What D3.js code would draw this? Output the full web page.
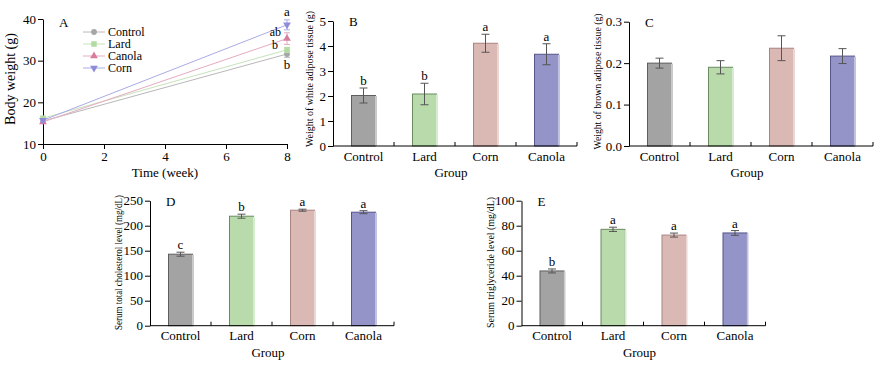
<!DOCTYPE html>
<html><head><meta charset="utf-8">
<script src="https://cdn.jsdelivr.net/npm/d3@7"></script>
<style>
html,body{margin:0;padding:0;background:#fff;}
svg{display:block;font-family:"Liberation Serif","Times New Roman",serif;}
</style></head>
<body><svg id="c" width="881" height="365" font-family="Liberation Serif, Times New Roman, serif"></svg>
<script>
// ---------- data ----------
const groups = ["Control", "Lard", "Corn", "Canola"];
const watMean = [2.02, 2.08, 4.11, 3.67];
const watErr  = [0.30, 0.43, 0.36, 0.42];
const watSig  = ["b", "b", "a", "a"];
const batMean = [0.200, 0.190, 0.236, 0.217];
const batErr  = [0.012, 0.016, 0.030, 0.018];
const tcMean  = [143, 219, 231, 227];
const tcErr   = [4, 4, 2, 3];
const tcSig   = ["c", "b", "a", "a"];
const tgMean  = [43.8, 77.1, 72.5, 74.2];
const tgErr   = [1.6, 1.7, 1.6, 1.9];
const tgSig   = ["b", "a", "a", "a"];

const lineSeries = ["Control", "Lard", "Canola", "Corn"];
const weeks = [0, 8];
const bwWeek0 = [15.5, 16.2, 15.3, 15.7];
const bwWeek8 = [31.6, 32.6, 35.3, 38.6];
const bwErr0  = [0.3, 0.3, 0.3, 0.3];
const bwErr8  = [0.8, 0.6, 1.4, 1.2];
const bwSig   = ["b", "b", "ab", "a"];

const weekTicks = [0, 2, 4, 6, 8];
const bwTicks = [10, 20, 30, 40];
const watTicks = [0, 1, 2, 3, 4, 5];
const batTicks = [0, 0.1, 0.2, 0.3];
const tcTicks = [0, 50, 100, 150, 200, 250];
const tgTicks = [0, 20, 40, 60, 80, 100];

// ---------- styles ----------
const FF = "'Liberation Serif', 'Times New Roman', serif";
const barFill   = {Control:"#a3a3a3", Lard:"#b9dbab", Corn:"#dab8b3", Canola:"#9494c8"};
const barStroke = {Control:"#5e5e5e", Lard:"#6b8a60", Corn:"#a88480", Canola:"#55558a"};
const barShade  = {Control:"#cacaca", Lard:"#d6ecce", Corn:"#ead6d3", Canola:"#c2c2e2"};
const lineCol   = {Control:"#b8b8b8", Lard:"#c6e3ba", Canola:"#e4abc1", Corn:"#aaaae8"};
const markCol   = {Control:"#a6a6a6", Lard:"#b2dba2", Canola:"#d87c9c", Corn:"#8c8cd8"};
const markSym   = {Control:d3.symbolCircle, Lard:d3.symbolSquare, Canola:d3.symbolTriangle, Corn:d3.symbolTriangle};

const svg = d3.select("#c");
const FS = 13;

function styleAxis(g){
  g.attr("font-family", FF);
  g.selectAll("path,line").attr("stroke","#000").attr("stroke-width",1);
  g.selectAll("text").attr("font-family",FF).attr("font-size",FS).attr("fill","#000");
}
function txt(g, t, xx, yy, anchor, size){
  return g.append("text").attr("x",xx).attr("y",yy).attr("text-anchor",anchor||"start")
    .attr("font-family",FF).attr("font-size",size||FS).attr("fill","#000").text(t);
}

// ---------- Panel A: line chart ----------
(function(){
  const x = d3.scaleLinear().domain([0,8]).range([43,287]);
  const y = d3.scaleLinear().domain([10,40]).range([144,19]);
  const g = svg.append("g");
  const yA = g.append("g").attr("transform","translate(43,0)")
    .call(d3.axisLeft(y).tickValues(bwTicks).tickSize(5).tickSizeOuter(0).tickPadding(2));
  styleAxis(yA);
  const xA = g.append("g").attr("transform","translate(0,144)")
    .call(d3.axisBottom(x).tickValues(weekTicks).tickSize(5).tickSizeOuter(0).tickPadding(3));
  styleAxis(xA);

  lineSeries.forEach((s,i)=>{
    const pts = [[weeks[0], bwWeek0[i], bwErr0[i]], [weeks[1], bwWeek8[i], bwErr8[i]]];
    g.append("path").attr("d", d3.line().x(d=>x(d[0])).y(d=>y(d[1]))(pts))
      .attr("fill","none").attr("stroke",lineCol[s]).attr("stroke-width",1);
    pts.forEach(p=>{
      const cx = x(p[0]);
      g.append("line").attr("x1",cx).attr("x2",cx).attr("y1",y(p[1]-p[2])).attr("y2",y(p[1]+p[2]))
        .attr("stroke",lineCol[s]);
      [p[1]-p[2], p[1]+p[2]].forEach(v=>g.append("line").attr("x1",cx-3).attr("x2",cx+3)
        .attr("y1",y(v)).attr("y2",y(v)).attr("stroke",lineCol[s]));
      const rot = s==="Corn" ? 180 : 0;
      g.append("path").attr("d", d3.symbol().type(markSym[s]).size(s==="Lard"?30:26)())
        .attr("transform",`translate(${cx},${y(p[1])}) rotate(${rot})`).attr("fill",markCol[s]);
    });
  });
  // significance letters
  const iCorn = lineSeries.indexOf("Corn"), iCan = lineSeries.indexOf("Canola"),
        iLard = lineSeries.indexOf("Lard"), iCon = lineSeries.indexOf("Control");
  txt(g, bwSig[iCorn], x(8), y(bwWeek8[iCorn]+bwErr8[iCorn])-4, "middle");
  txt(g, bwSig[iCan], x(8)-6, y(bwWeek8[iCan]+bwErr8[iCan])+3, "end", 12);
  txt(g, bwSig[iLard], x(8)-12, y(bwWeek8[iLard]+bwErr8[iLard])+2, "middle", 12);
  txt(g, bwSig[iCon], x(8), y(bwWeek8[iCon]-bwErr8[iCon])+12, "middle");

  // legend
  lineSeries.forEach((s,i)=>{
    const ly = 32 + i*12;
    g.append("line").attr("x1",83).attr("x2",105).attr("y1",ly).attr("y2",ly).attr("stroke",lineCol[s]);
    g.append("path").attr("d", d3.symbol().type(markSym[s]).size(s==="Lard"?30:26)())
      .attr("transform",`translate(94,${ly}) rotate(${s==="Corn"?180:0})`).attr("fill",markCol[s]);
    txt(g, s, 108, ly+4, "start", 12);
  });
  txt(g, "A", 59, 27);
  txt(g, "Time (week)", 165, 177, "middle");
  g.append("text").attr("transform","translate(15,79) rotate(-90)").attr("text-anchor","middle")
    .attr("font-family",FF).attr("font-size",14).text("Body weight (g)");
})();

// ---------- bar panels ----------
function barPanel(o){
  const step = 61;
  const x = d3.scaleBand().domain(groups).range([o.x0, o.x0 + step*groups.length]).padding(0);
  const y = d3.scaleLinear().domain(o.domain).range([o.yb, o.yt]);
  const g = svg.append("g");
  const bw = 24;
  groups.forEach((grp,i)=>{
    const cx = x(grp) + x.bandwidth()/2;
    const top = y(o.mean[i]);
    g.append("rect").attr("x",cx-bw/2).attr("y",top).attr("width",bw).attr("height",o.yb-top)
      .attr("fill",barFill[grp]).attr("stroke",barStroke[grp]).attr("stroke-width",1);
    g.append("rect").attr("x",cx+bw/2-0.5).attr("y",top+0.5).attr("width",2).attr("height",o.yb-top-0.5)
      .attr("fill",barShade[grp]);
    const e1 = y(o.mean[i]+o.err[i]), e0 = y(o.mean[i]-o.err[i]);
    g.append("line").attr("x1",cx).attr("x2",cx).attr("y1",e1).attr("y2",e0).attr("stroke","#555");
    [e1,e0].forEach(v=>g.append("line").attr("x1",cx-4).attr("x2",cx+4).attr("y1",v).attr("y2",v).attr("stroke","#555"));
    if(o.sig) txt(g, o.sig[i], cx, e1-3, "middle");
  });
  const yA = g.append("g").attr("transform",`translate(${o.x0},0)`)
    .call(d3.axisLeft(y).tickValues(o.ticks).tickFormat(o.fmt).tickSize(5).tickSizeOuter(0).tickPadding(2));
  styleAxis(yA);
  const xEnd = o.x0 + step*groups.length;
  g.append("line").attr("x1",o.x0).attr("x2",xEnd).attr("y1",o.yb).attr("y2",o.yb).attr("stroke","#000");
  groups.forEach(grp=>{
    const tx = x(grp) + x.bandwidth();
    g.append("line").attr("x1",tx).attr("x2",tx).attr("y1",o.yb).attr("y2",o.yb-4).attr("stroke","#000");
    txt(g, grp, x(grp)+x.bandwidth()/2, o.yb+14.5, "middle");
  });
  txt(g, "Group", (o.x0+xEnd)/2 - 4, o.yb+31, "middle");
  txt(g, o.letter, o.x0+16, o.yt+5);
  g.append("text").attr("transform",`translate(${o.lx},${o.ly}) rotate(-90)`).attr("text-anchor","middle")
    .attr("font-family",FF).attr("font-size",10.5).attr("textLength",o.llen).attr("lengthAdjust","spacingAndGlyphs").text(o.label);
}

barPanel({x0:333, yb:146, yt:21, domain:[0,5], ticks:watTicks, fmt:d3.format("d"),
  mean:watMean, err:watErr, sig:watSig, letter:"B",
  label:"Weight of white adipose tissue (g)", lx:313, ly:79, llen:136});
barPanel({x0:629, yb:146, yt:21.7, domain:[0,0.3], ticks:batTicks, fmt:d3.format(".1f"),
  mean:batMean, err:batErr, sig:null, letter:"C",
  label:"Weight of brown adipose tissue (g)", lx:601, ly:81.5, llen:136});
barPanel({x0:150, yb:325.7, yt:200.7, domain:[0,250], ticks:tcTicks, fmt:d3.format("d"),
  mean:tcMean, err:tcErr, sig:tcSig, letter:"D",
  label:"Serum total cholesterol level (mg/dL)", lx:122, ly:262.5, llen:135});
barPanel({x0:521.5, yb:325.7, yt:200.7, domain:[0,100], ticks:tgTicks, fmt:d3.format("d"),
  mean:tgMean, err:tgErr, sig:tgSig, letter:"E",
  label:"Serum triglyceride level (mg/dL)", lx:494, ly:262.5, llen:131});
</script></body></html>
